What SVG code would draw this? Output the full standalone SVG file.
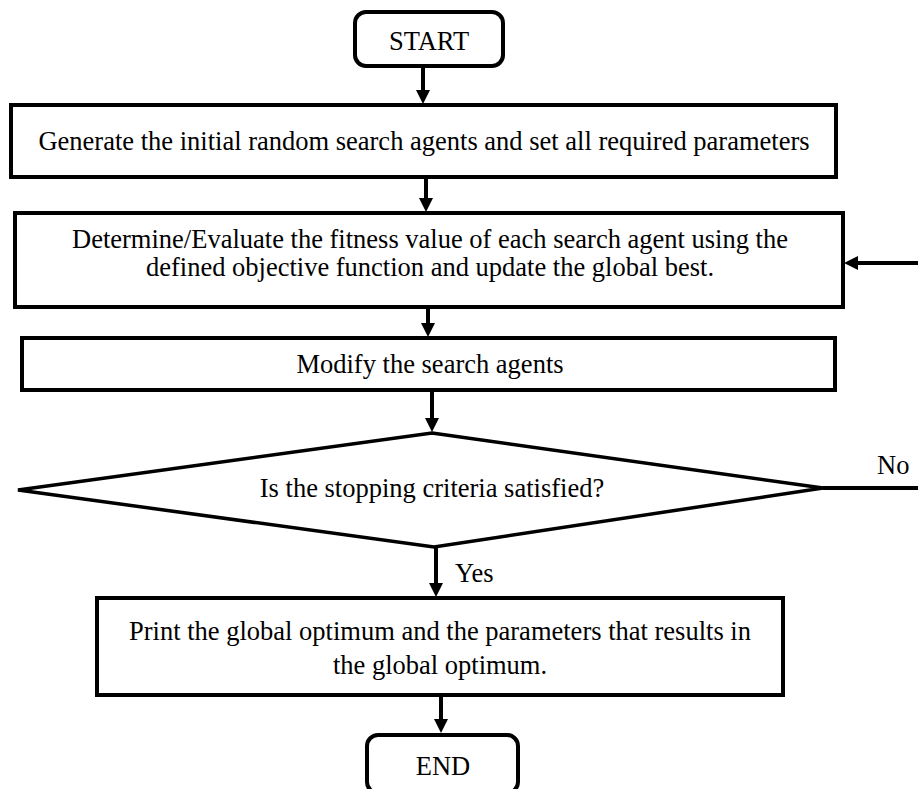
<svg xmlns="http://www.w3.org/2000/svg" width="918" height="789" viewBox="0 0 918 789">
  <style>
    .box { fill: #ffffff; stroke: #000000; stroke-width: 4; }
    .term { fill: #ffffff; stroke: #000000; stroke-width: 4; }
    .dec { fill: #ffffff; stroke: #000000; stroke-width: 3.5; stroke-linejoin: miter; }
    .lbl { font-family: "Liberation Serif", "Times New Roman", serif; font-size: 26.5px; fill: #000000; text-anchor: middle; dominant-baseline: central; }
    .side { font-family: "Liberation Serif", "Times New Roman", serif; font-size: 26.5px; fill: #000000; dominant-baseline: central; }
    .flow { stroke: #000000; stroke-width: 4; fill: none; }
  </style>
  <defs>
    <marker id="head" viewBox="0 0 14 14" refX="4" refY="7" markerWidth="14" markerHeight="14" markerUnits="userSpaceOnUse" orient="auto">
      <path d="M0,0 L14,7 L0,14 z" fill="#000000"/>
    </marker>
  </defs>
  <rect width="918" height="789" fill="#ffffff"/>

  <g id="connectors">
    <line class="flow" x1="423" y1="66" x2="423" y2="94" marker-end="url(#head)"/>
    <line class="flow" x1="426" y1="177" x2="426" y2="202" marker-end="url(#head)"/>
    <line class="flow" x1="428" y1="307" x2="428" y2="327" marker-end="url(#head)"/>
    <line class="flow" x1="432" y1="390" x2="432" y2="422" marker-end="url(#head)"/>
    <line class="flow" x1="436" y1="547" x2="436" y2="587" marker-end="url(#head)"/>
    <line class="flow" x1="441" y1="695" x2="441" y2="723" marker-end="url(#head)"/>
    <line class="flow" x1="918" y1="263" x2="854" y2="263" marker-end="url(#head)"/>
    <line class="flow" x1="823" y1="488" x2="918" y2="488"/>
    <text class="side" x="877" y="465">No</text>
    <text class="side" x="455" y="573">Yes</text>
  </g>

  <g id="start">
    <rect class="term" x="355" y="12" width="148" height="54" rx="11" ry="11"/>
    <text class="lbl" x="429" y="41">START</text>
  </g>

  <g id="init">
    <rect class="box" x="11" y="105" width="825" height="72"/>
    <text class="lbl" x="424" y="141">Generate the initial random search agents and set all required parameters</text>
  </g>

  <g id="evaluate">
    <rect class="box" x="15" y="213" width="828" height="94"/>
    <text class="lbl" x="430" y="239">Determine/Evaluate the fitness value of each search agent using the</text>
    <text class="lbl" x="430" y="267">defined objective function and update the global best.</text>
  </g>

  <g id="modify">
    <rect class="box" x="22" y="338" width="813" height="52"/>
    <text class="lbl" x="430" y="364">Modify the search agents</text>
  </g>

  <g id="stop-check">
    <polygon class="dec" points="432,433 823,488 434,547 18,490"/>
    <text class="lbl" x="432" y="488">Is the stopping criteria satisfied?</text>
  </g>

  <g id="report">
    <rect class="box" x="97" y="598" width="686" height="97"/>
    <text class="lbl" x="440" y="631">Print the global optimum and the parameters that results in</text>
    <text class="lbl" x="440" y="665">the global optimum.</text>
  </g>

  <g id="end">
    <rect class="term" x="367" y="735" width="151" height="58" rx="11" ry="11"/>
    <text class="lbl" x="443" y="766">END</text>
  </g>
</svg>
